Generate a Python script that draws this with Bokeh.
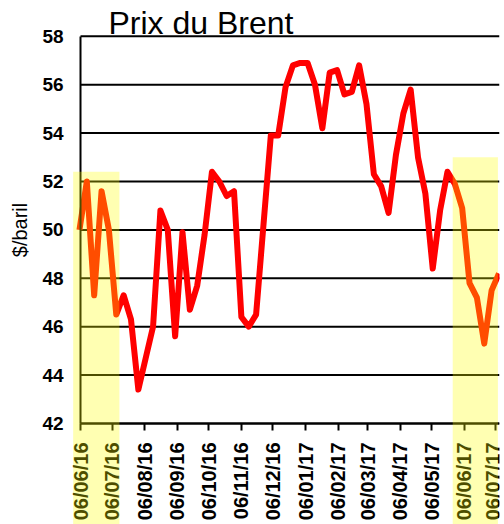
import math
import pandas as pd
from bokeh.plotting import figure
from bokeh.models import (FixedTicker, DatetimeTickFormatter, BoxAnnotation, Range1d, Label)
from bokeh.embed import file_html
from bokeh.resources import INLINE

# ---- data ----
start_date = "2016-06-05"
n_weeks = 58
prices = [50.0, 52.0, 47.3, 51.6, 50.0, 46.5, 47.3, 46.3, 43.4, 44.7,
          46.0, 50.8, 50.0, 45.6, 49.9, 46.7, 47.7, 49.8, 52.4, 52.0,
          51.4, 51.6, 46.4, 46.0, 46.5, 50.2, 53.9, 53.9, 55.9, 56.8,
          56.9, 56.9, 56.0, 54.2, 56.5, 56.6, 55.6, 55.7, 56.8, 55.2,
          52.3, 51.8, 50.7, 53.1, 54.8, 55.8, 53.0, 51.5, 48.4, 50.8,
          52.4, 51.9, 50.9, 47.8, 47.2, 45.3, 47.5, 48.2]
tick_dates = ["2016-06-06", "2016-07-06", "2016-08-06", "2016-09-06", "2016-10-06",
              "2016-11-06", "2016-12-06", "2017-01-06", "2017-02-06", "2017-03-06",
              "2017-04-06", "2017-05-06", "2017-06-06", "2017-07-06"]
y_ticks = [42, 44, 46, 48, 50, 52, 54, 56, 58]
highlight_1 = ("2016-05-30", "2016-07-13", 52.4)
highlight_2 = ("2017-05-26", "2017-07-08", 53.0)
title_text = "Prix du Brent"
y_label = "$/baril"

dates = pd.date_range(start_date, periods=n_weeks, freq="7D")
DAY = 24 * 3600 * 1000.0


def ms(s):
    return pd.Timestamp(s).timestamp() * 1000.0


x_start = ms("2016-06-06")
x_end = ms("2017-07-09") + 0.5 * DAY
x_lo = x_start - 76.1 * DAY  # room on the left for the y labels

p = figure(width=504, height=524, x_axis_type="datetime",
           x_range=Range1d(x_lo, x_end), y_range=Range1d(37.825, 59.48),
           output_backend="svg", toolbar_location=None,
           min_border_left=0, min_border_right=5, min_border_top=0, min_border_bottom=0)
p.outline_line_color = None
p.background_fill_color = "white"
p.border_fill_color = "white"

# horizontal grid lines, from the axis start to the right edge
p.segment(x0=[x_start] * len(y_ticks), x1=[x_end] * len(y_ticks),
          y0=y_ticks, y1=y_ticks, line_color="black", line_width=2)

p.line(dates, prices, line_color="#FF0000", line_width=6, line_join="round")

# axes
xa = p.xaxis[0]
xa.fixed_location = y_ticks[0]
xa.bounds = (x_start, x_end)
xa.ticker = FixedTicker(ticks=[ms(d) for d in tick_dates])
fmt = "%d/%m/%y"
xa.formatter = DatetimeTickFormatter(milliseconds=fmt, seconds=fmt, minsec=fmt, minutes=fmt,
                                     hourmin=fmt, hours=fmt, days=fmt, months=fmt, years=fmt)
xa.major_label_orientation = math.pi / 2
xa.major_label_text_font = "Liberation Sans"
xa.major_label_text_font_style = "bold"
xa.major_label_text_font_size = "20px"
xa.major_label_text_color = "black"
xa.major_label_standoff = 12
xa.axis_line_color = "black"
xa.axis_line_width = 2
xa.major_tick_line_color = "black"
xa.major_tick_line_width = 2
xa.major_tick_out = 7
xa.major_tick_in = 0
xa.minor_tick_line_color = None

ya = p.yaxis[0]
ya.fixed_location = x_start
ya.bounds = (y_ticks[0], y_ticks[-1])
ya.ticker = FixedTicker(ticks=y_ticks)
ya.major_label_text_font = "Liberation Sans"
ya.major_label_text_font_style = "bold"
ya.major_label_text_font_size = "19px"
ya.major_label_text_color = "black"
ya.major_label_standoff = 17
ya.axis_line_color = "black"
ya.axis_line_width = 2
ya.major_tick_out = 0
ya.major_tick_in = 0
ya.minor_tick_line_color = None
ya.axis_label = y_label
ya.axis_label_text_font = "Liberation Sans"
ya.axis_label_text_font_style = "normal"
ya.axis_label_text_font_size = "20px"
ya.axis_label_text_color = "black"
ya.axis_label_standoff = 8

p.xgrid.visible = False
p.ygrid.visible = False

for (l, r, t) in (highlight_1, highlight_2):
    p.add_layout(BoxAnnotation(left=ms(l), right=ms(r), bottom=30, top=t,
                               fill_color="#FFFF00", fill_alpha=0.3, line_color=None,
                               level="overlay"))

# chart title
p.add_layout(Label(x=x_start, y=58.57, x_offset=28, text=title_text,
                   text_font="Liberation Sans", text_font_size="32px",
                   text_color="black", text_baseline="alphabetic", text_align="left"))

open("out.html", "w").write(file_html(p, INLINE))
